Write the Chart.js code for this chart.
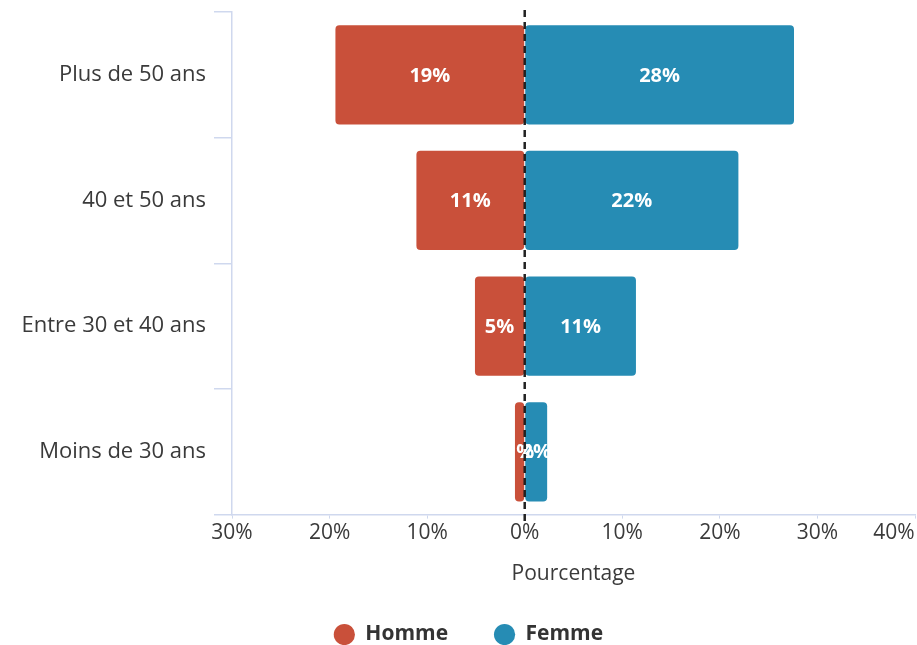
<!DOCTYPE html>
<html lang="fr">
<head>
    <meta charset="UTF-8" />
    <title>Pyramide des âges</title>
    <script src="https://cdn.jsdelivr.net/npm/chart.js@4.4.1/dist/chart.umd.min.js"></script>
    <style>
        html, body { margin: 0; padding: 0; background: #fff; }
        #wrap { width: 917px; height: 645px; }
    </style>
</head>
<body>
    <div id="wrap"><canvas id="myChart"></canvas></div>

    <script>
        // data
        const categories = ['Plus de 50 ans', '40 et 50 ans', 'Entre 30 et 40 ans', 'Moins de 30 ans'];
        const homme = [19.4, 11.1, 5.1, 1.0];
        const femme = [27.6, 21.9, 11.4, 2.3];
        const xMin = -30;
        const xMax = 40;
        const xStep = 10;

        const RED = '#c9503a';
        const BLUE = '#268cb4';
        const TEXT = '#3a3a3a';
        const LINE = '#cfd8ee';
        const FONT = "'Open Sans', 'Noto Sans', sans-serif";

        // labels inside the bars
        const barLabels = {
            id: 'barLabels',
            afterDatasetsDraw(chart) {
                const ctx = chart.ctx;
                ctx.save();
                ctx.font = 'bold 20px ' + FONT;
                ctx.fillStyle = '#ffffff';
                ctx.textAlign = 'center';
                ctx.textBaseline = 'middle';
                chart.data.datasets.forEach((ds, i) => {
                    chart.getDatasetMeta(i).data.forEach((bar, j) => {
                        const v = Math.abs(ds.data[j]);
                        ctx.fillText(Math.round(v) + '%', (bar.x + bar.base) / 2, bar.y + 1);
                    });
                });
                ctx.restore();
            }
        };

        // dashed line at 0
        const zeroLine = {
            id: 'zeroLine',
            afterDraw(chart) {
                const ctx = chart.ctx;
                const x = chart.scales.x.getPixelForValue(0);
                ctx.save();
                ctx.strokeStyle = '#222';
                ctx.lineWidth = 2.5;
                ctx.setLineDash([7, 5]);
                ctx.beginPath();
                ctx.moveTo(x, chart.chartArea.top - 2);
                ctx.lineTo(x, chart.chartArea.bottom + 8);
                ctx.stroke();
                ctx.restore();
            }
        };

        // nudge the legend a bit to the right
        const legendShift = {
            id: 'legendShift',
            afterLayout(chart) {
                chart.legend.left += 11;
                chart.legend.right += 11;
            }
        };

        const data = {
            labels: categories,
            datasets: [{
                label: 'Homme',
                data: homme.map(v => -v),
                backgroundColor: RED,
                borderRadius: 4,
                borderSkipped: false,
            }, {
                label: 'Femme',
                data: femme,
                backgroundColor: BLUE,
                borderRadius: 4,
                borderSkipped: false,
            }]
        };

        const config = {
            type: 'bar',
            data,
            plugins: [barLabels, zeroLine, legendShift],
            options: {
                indexAxis: 'y',
                responsive: true,
                maintainAspectRatio: false,
                animation: false,
                layout: { padding: { top: 12, right: 2, left: 0, bottom: -10 } },
                datasets: {
                    bar: { categoryPercentage: 0.79, barPercentage: 1 }
                },
                scales: {
                    x: {
                        stacked: true,
                        min: xMin,
                        max: xMax,
                        ticks: {
                            stepSize: xStep,
                            color: TEXT,
                            font: { family: FONT, size: 21 },
                            padding: 2,
                            callback: v => v === xMax ? Math.abs(v) + '%\u2002\u2002\u2002\u2002' : Math.abs(v) + '%'
                        },
                        grid: { drawOnChartArea: false, color: LINE, tickLength: 4 },
                        border: { color: LINE, width: 1.5 },
                        title: {
                            display: true,
                            text: 'Pourcentage',
                            color: TEXT,
                            font: { family: FONT, size: 21 },
                            padding: { top: 14, bottom: -9 }
                        },
                        afterFit: s => { s.paddingRight = 0; }
                    },
                    y: {
                        stacked: true,
                        ticks: {
                            color: TEXT,
                            font: { family: FONT, size: 22 },
                            padding: 8
                        },
                        grid: { drawOnChartArea: false, offset: true, color: LINE, tickLength: 18, lineWidth: 1.5 },
                        border: { color: LINE, width: 1.5 },
                        afterFit: s => { s.width = 232; s.paddingTop = 0; s.paddingBottom = 0; }
                    }
                },
                plugins: {
                    legend: {
                        position: 'bottom',
                        labels: {
                            usePointStyle: true,
                            pointStyle: 'circle',
                            boxWidth: 21,
                            boxHeight: 15,
                            padding: 46,
                            color: '#333',
                            font: { family: FONT, size: 21, weight: 'bold' }
                        }
                    },
                    tooltip: { enabled: false }
                }
            }
        };

        const chart = new Chart(document.getElementById('myChart'), config);
    </script>
</body>
</html>
